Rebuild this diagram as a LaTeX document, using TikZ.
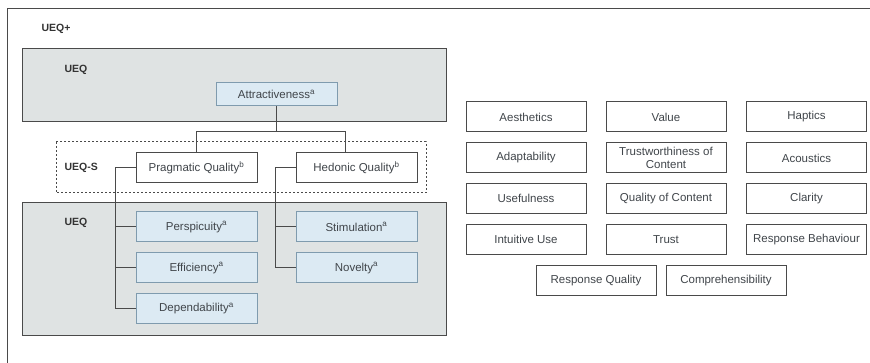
\documentclass[tikz,border=0pt]{standalone}
\usepackage{fontspec}
\setmainfont{Liberation Sans}
\usetikzlibrary{positioning}
\definecolor{panelgray}{HTML}{DFE3E3}
\definecolor{boxblue}{HTML}{DCEAF3}
\definecolor{edgeblue}{HTML}{7F9BAE}
\definecolor{textgray}{HTML}{40454A}
\definecolor{linegray}{HTML}{4A4A4A}
\begin{document}
\begin{tikzpicture}[x = 1pt, y = -1pt,
	every node/.style = {font = \fontsize{11.5}{12.5}\selectfont, text = textgray},
	scale box/.style = {draw = edgeblue, line width = 1pt, fill = boxblue, minimum width = 121pt, minimum height = 30pt, inner sep = 0pt},
	plain box/.style = {draw = linegray, line width = 1pt, fill = white, minimum width = 121pt, minimum height = 30pt, inner sep = 0pt},
	item box/.style = {draw = linegray, line width = 1pt, minimum width = 120pt, minimum height = 30pt, inner sep = 0pt, align = center},
	panel label/.style = {font = \fontsize{10.5}{12}\selectfont\bfseries, text = black!80, anchor = west},
	link/.style = {draw = linegray, line width = 1pt}]
	\useasboundingbox (0,0) rectangle (870,363);
	% panels
	\draw [linegray, line width = 1pt] (870,9) -- (7,9) -- (7,363);
	\draw [linegray, line width = 1pt, fill = panelgray] (22,49) rectangle (446,122);
	\draw [linegray, line width = 1pt, dash pattern = on 2pt off 2pt] (56,142) rectangle (426,193);
	\draw [linegray, line width = 1pt, fill = panelgray] (22,203) rectangle (446,335);
	\node [panel label] (ueqplus) at (38,29) {UEQ+};
	\node [panel label] (ueqtop) at (61,70) {UEQ};
	\node [panel label] (ueqs) at (61,168) {UEQ-S};
	\node [panel label] (ueqlow) at (61,223) {UEQ};
	% scales
	\node [scale box, minimum height = 23pt] (attr) at (276.5,94.5) {Attractiveness$^{\mathrm{a}}$};
	\node [plain box] (prag) at (196.5,168) {Pragmatic Quality$^{\mathrm{b}}$};
	\node [plain box] (hed) at (356.5,168) {Hedonic Quality$^{\mathrm{b}}$};
	\node [scale box] (persp) at (196.5,227) {Perspicuity$^{\mathrm{a}}$};
	\node [scale box] (effi) at (196.5,268) {Efficiency$^{\mathrm{a}}$};
	\node [scale box] (dep) at (196.5,308.5) {Dependability$^{\mathrm{a}}$};
	\node [scale box] (stim) at (356.5,227) {Stimulation$^{\mathrm{a}}$};
	\node [scale box] (nov) at (356.5,268) {Novelty$^{\mathrm{a}}$};
	\draw [link] (attr.south) -- ++(0,25) coordinate (split);
	\draw [link] (prag.north) |- (split) -| ([xshift = -11pt]hed.north);
	\draw [link] (prag.west) -- ++(-20,0) coordinate (pragline) |- (dep.west);
	\draw [link] (pragline |- persp.west) -- (persp.west);
	\draw [link] (pragline |- effi.west) -- (effi.west);
	\draw [link] (hed.west) -- ++(-20,0) coordinate (hedline) |- (nov.west);
	\draw [link] (hedline |- stim.west) -- (stim.west);
	% UEQ+ scales
	\node [item box] (aest) at (526,117) {Aesthetics};
	\node [item box] (value) at (666,117) {Value};
	\node [item box] (hapt) at (806.5,117) {Haptics};
	\node [item box] (adapt) at (526,158) {Adaptability};
	\node [item box] (trustw) at (666,158) {Trustworthiness of\\Content};
	\node [item box] (acou) at (806.5,158) {Acoustics};
	\node [item box] (useful) at (526,198.5) {Usefulness};
	\node [item box] (qual) at (666,198.5) {Quality of Content};
	\node [item box] (clar) at (806.5,198.5) {Clarity};
	\node [item box] (intuit) at (526,239.5) {Intuitive Use};
	\node [item box] (trust) at (666,239.5) {Trust};
	\node [item box] (respb) at (806.5,239.5) {Response Behaviour};
	\node [item box] (respq) at (596,280.5) {Response Quality};
	\node [item box] (compr) at (726,280.5) {Comprehensibility};
\end{tikzpicture}
\end{document}
